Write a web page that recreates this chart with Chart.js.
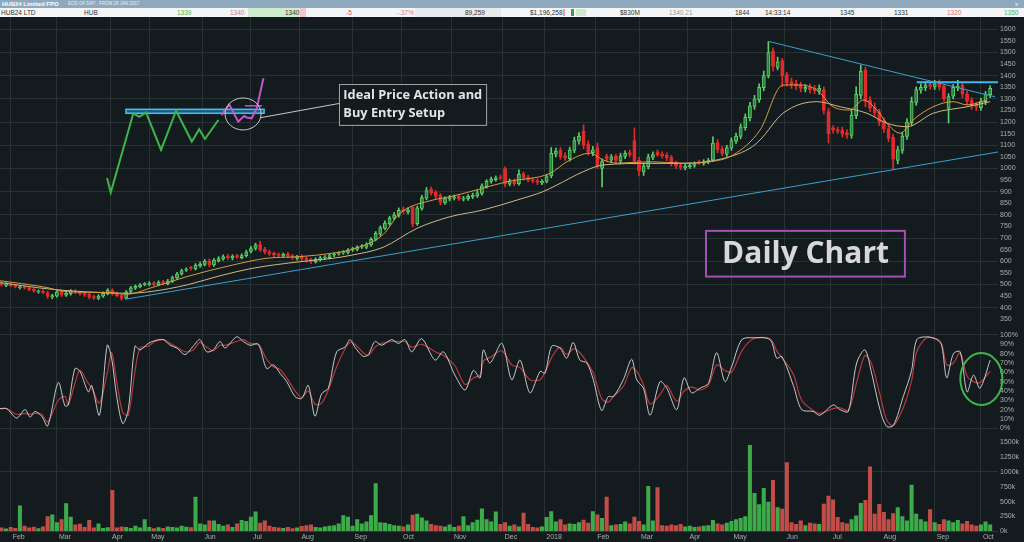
<!DOCTYPE html>
<html>
<head>
<meta charset="utf-8">
<title>HUB24 Daily Chart</title>
<script src="https://cdn.jsdelivr.net/npm/chart.js@4.4.1/dist/chart.umd.min.js"></script>
<style>
  html, body { margin: 0; padding: 0; background: #141b1e; }
  body { width: 1024px; height: 542px; overflow: hidden; position: relative;
         font-family: 'Liberation Sans', Arial, sans-serif; }
  #titlebar { position: absolute; left: 0; top: 0; width: 1024px; height: 8px; background: #8ea9be; color: #fff; }
  #quote { position: absolute; left: 0; top: 8px; width: 1024px; height: 9px; background: #f3f5f6; color: #333; font-size: 6.5px; line-height: 9px; }
  .c { position: absolute; top: 0; white-space: nowrap; }
  .bg { position: absolute; top: 0; height: 9px; }
  #wrap { position: absolute; left: 0; top: 17px; width: 1024px; height: 525px; }
</style>
</head>
<body>
<div id="titlebar">
  <span class="c" style="left:2px;font-size:6px;line-height:8px;font-weight:bold">HUB24 Limited FPO</span>
  <span class="c" style="left:68px;font-size:4.5px;line-height:8px;color:#e6edf3">EOD OF DAY , FROM 28 JAN 2017</span>
  <span class="c" style="left:1015px;font-size:6px;line-height:8px">x</span>
</div>
<div id="quote">
  <div class="bg" style="left:248px;width:52px;background:#cfeccf"></div>
  <div class="bg" style="left:300px;width:6px;background:#f3c8c8"></div>
  <div class="bg" style="left:415px;width:86px;background:#e8eaeb"></div>
  <span class="c" style="left:1px">HUB24 LTD</span>
  <span class="c" style="left:84px">HUB</span>
  <span class="c" style="left:177px;color:#4fae55">1339</span>
  <span class="c" style="left:230px;color:#d27a7a">1340</span>
  <span class="c" style="left:285px">1340</span>
  <span class="c" style="left:346px;color:#d9534f">-5</span>
  <span class="c" style="left:397px;color:#dd7b7b">-.37%</span>
  <span class="c" style="left:465px">89,259</span>
  <span class="c" style="left:530px">$1,196,258</span>
  <span class="c" style="left:563px;top:1px;width:2px;height:7px;background:#e8a0a0"></span>
  <span class="c" style="left:571px;top:1px;width:3px;height:7px;background:#3e9e48"></span>
  <span class="c" style="left:576px;top:1px;width:10px;height:7px;background:#cfe9cf"></span>
  <span class="c" style="left:620px">$830M</span>
  <span class="c" style="left:669px;color:#9a9a9a">1340.21</span>
  <span class="c" style="left:735px">1844</span>
  <span class="c" style="left:765px">14:33:14</span>
  <span class="c" style="left:840px">1345</span>
  <span class="c" style="left:894px">1331</span>
  <span class="c" style="left:947px;color:#d27a7a">1320</span>
  <span class="c" style="left:1004px;color:#52b45a">1350</span>
</div>
<div id="wrap"><canvas id="chart"></canvas></div>

<script>
// one bar every 2 trading days, first bar at trading day -4 (late Jan 2017), day 0 = 1 Feb 2017
const FIRST_DAY = -4;

const opens = [
  505, 496, 503, 497, 486, 490, 486, 480, 468, 472,
  465, 446, 450, 470, 454, 460, 472, 467, 462, 457,
  448, 440, 449, 460, 476, 462, 454, 442, 470, 484,
  490, 499, 500, 507, 499, 512, 503, 514, 528, 546,
  562, 572, 568, 580, 586, 602, 584, 603, 610, 622,
  613, 624, 616, 624, 642, 655, 672, 652, 642, 634,
  630, 623, 632, 624, 612, 622, 613, 608, 598, 606,
  614, 616, 626, 632, 636, 638, 650, 651, 662, 660,
  670, 694, 718, 742, 762, 786, 798, 824, 812, 832,
  762, 828, 872, 910, 897, 884, 852, 868, 872, 880,
  868, 870, 878, 882, 893, 922, 944, 952, 964, 1000,
  932, 948, 934, 978, 962, 952, 948, 938, 944, 968,
  1062, 1078, 1056, 1042, 1078, 1118, 1160, 1105, 1068, 1090,
  1000, 1055, 1036, 1052, 1032, 1052, 1068, 1120, 1035, 985,
  1008, 1048, 1072, 1062, 1058, 1048, 1024, 1014, 1002, 1008,
  1013, 1028, 1022, 1028, 1036, 1112, 1085, 1062, 1088, 1118,
  1138, 1176, 1218, 1268, 1296, 1348, 1398, 1505, 1436, 1465,
  1405, 1375, 1366, 1360, 1342, 1352, 1345, 1332, 1340, 1245,
  1175, 1168, 1165, 1155, 1142, 1228, 1315, 1425, 1295, 1265,
  1245, 1205, 1172, 1135, 1035, 1078, 1138, 1198, 1285, 1338,
  1348, 1362, 1352, 1368, 1355, 1260, 1312, 1348, 1360, 1322,
  1295, 1275, 1262, 1288, 1318
];
const highs = [
  512, 508, 507, 500, 495, 494, 490, 484, 476, 478,
  470, 458, 474, 476, 468, 478, 478, 472, 466, 462,
  454, 456, 468, 482, 482, 468, 458, 474, 492, 498,
  504, 508, 512, 512, 516, 518, 522, 536, 552, 566,
  572, 578, 590, 596, 608, 610, 612, 620, 628, 630,
  628, 630, 632, 648, 664, 678, 686, 660, 648, 640,
  636, 636, 638, 630, 626, 628, 620, 614, 615, 622,
  624, 632, 636, 642, 646, 655, 660, 667, 672, 680,
  702, 728, 752, 774, 794, 810, 830, 834, 830, 836,
  838, 884, 918, 920, 905, 892, 878, 884, 886, 888,
  880, 888, 894, 906, 934, 952, 963, 968, 972, 1007,
  955, 955, 994, 985, 970, 960, 955, 952, 975, 1090,
  1088, 1090, 1068, 1092, 1135, 1155, 1188, 1120, 1095, 1110,
  1042, 1062, 1060, 1062, 1066, 1076, 1080, 1175, 1048, 1022,
  1062, 1072, 1080, 1072, 1068, 1056, 1032, 1022, 1018, 1024,
  1028, 1036, 1038, 1044, 1136, 1125, 1095, 1100, 1132, 1153,
  1192, 1235, 1285, 1315, 1365, 1420, 1547, 1520, 1480, 1475,
  1415, 1390, 1380, 1372, 1362, 1365, 1358, 1360, 1352, 1260,
  1185, 1178, 1178, 1168, 1252, 1352, 1446, 1437, 1310, 1282,
  1255, 1218, 1185, 1148, 1095, 1155, 1215, 1308, 1352, 1365,
  1372, 1375, 1380, 1382, 1362, 1322, 1362, 1380, 1372, 1334,
  1305, 1285, 1302, 1332, 1356
];
const lows = [
  492, 490, 490, 485, 480, 480, 472, 466, 462, 460,
  440, 438, 445, 448, 448, 454, 460, 454, 448, 438,
  436, 434, 444, 455, 454, 446, 432, 438, 464, 478,
  485, 494, 494, 494, 494, 498, 498, 508, 522, 540,
  556, 562, 562, 574, 580, 576, 578, 596, 604, 608,
  606, 612, 610, 618, 636, 648, 642, 632, 625, 620,
  618, 616, 615, 608, 605, 600, 596, 590, 592, 600,
  608, 610, 620, 626, 630, 632, 642, 645, 655, 654,
  664, 688, 710, 735, 755, 778, 790, 806, 804, 748,
  755, 820, 865, 885, 870, 843, 845, 860, 864, 862,
  860, 862, 870, 875, 885, 915, 936, 945, 950, 920,
  925, 926, 928, 950, 942, 938, 930, 930, 938, 960,
  1050, 1040, 1035, 1032, 1068, 1105, 1085, 1058, 1055, 1000,
  920, 1030, 1025, 1024, 1020, 1042, 1050, 1018, 968, 970,
  998, 1038, 1052, 1044, 1034, 1010, 1000, 995, 994, 1000,
  1005, 1016, 1014, 1020, 1030, 1068, 1055, 1052, 1078, 1108,
  1128, 1165, 1205, 1255, 1285, 1335, 1390, 1420, 1425, 1352,
  1355, 1345, 1340, 1330, 1330, 1325, 1322, 1320, 1235, 1110,
  1152, 1150, 1136, 1130, 1130, 1215, 1300, 1266, 1245, 1225,
  1185, 1155, 1115, 994, 1020, 1065, 1125, 1185, 1272, 1325,
  1335, 1342, 1340, 1338, 1290, 1196, 1300, 1335, 1305, 1275,
  1255, 1250, 1250, 1275, 1305
];
const closes = [
  498, 502, 495, 490, 488, 485, 478, 472, 470, 466,
  448, 452, 468, 455, 462, 470, 466, 460, 455, 445,
  442, 450, 462, 475, 460, 452, 440, 468, 485, 492,
  498, 502, 505, 500, 510, 505, 515, 530, 545, 560,
  565, 570, 582, 588, 600, 585, 605, 612, 620, 615,
  622, 618, 625, 640, 655, 670, 650, 640, 632, 628,
  625, 630, 622, 615, 620, 610, 605, 600, 608, 615,
  618, 625, 630, 635, 640, 648, 652, 660, 665, 672,
  695, 720, 745, 765, 785, 800, 820, 815, 820, 760,
  830, 875, 905, 895, 880, 855, 870, 875, 878, 870,
  872, 880, 885, 895, 925, 945, 955, 960, 958, 935,
  945, 935, 975, 960, 950, 945, 940, 945, 965, 1065,
  1075, 1050, 1045, 1080, 1120, 1140, 1100, 1070, 1080, 1010,
  1030, 1040, 1050, 1035, 1055, 1065, 1060, 1030, 990, 1010,
  1050, 1060, 1060, 1055, 1045, 1020, 1010, 1005, 1010, 1015,
  1020, 1025, 1030, 1035, 1110, 1080, 1065, 1090, 1120, 1140,
  1180, 1220, 1270, 1300, 1350, 1400, 1500, 1440, 1460, 1400,
  1370, 1360, 1355, 1345, 1350, 1340, 1335, 1345, 1250, 1150,
  1165, 1160, 1150, 1145, 1230, 1320, 1420, 1290, 1260, 1240,
  1200, 1170, 1130, 1040, 1080, 1140, 1200, 1290, 1340, 1350,
  1360, 1355, 1365, 1350, 1300, 1310, 1350, 1355, 1320, 1290,
  1270, 1265, 1290, 1320, 1345
];
// volume in thousands of shares
const volumes = [
  60, 45, 70, 55, 430, 90, 60, 75, 50, 80,
  250, 280, 150, 200, 465, 240, 110, 125, 70, 185,
  60, 130, 55, 65, 690, 60, 80, 70, 55, 90,
  60, 200, 70, 50, 65, 55, 80, 70, 60, 90,
  75, 65, 575, 130, 110, 180, 180, 120, 90, 110,
  70, 130, 185, 170, 240, 330, 140, 180, 90, 70,
  60, 55, 70, 50, 60, 85, 100, 110, 70, 60,
  80, 90, 100, 130, 265, 240, 90, 200, 130, 160,
  265, 800, 150, 140, 120, 100, 90, 80, 110, 275,
  290, 230, 180, 120, 100, 90, 80, 110, 70, 90,
  250, 100, 150, 190, 380, 200, 160, 330, 120, 150,
  90, 110, 80, 308, 120, 70, 60, 80, 235, 335,
  160, 200, 110, 130, 120, 150, 190, 140, 335, 280,
  220, 575, 100, 110, 120, 160, 130, 240, 170, 110,
  755, 180, 735, 100, 90, 110, 100, 120, 80, 90,
  70, 80, 90, 100, 185, 130, 110, 140, 170, 200,
  220, 250, 1440, 640, 450, 720, 490, 855, 400, 375,
  1150, 150, 120, 180, 100, 140, 130, 120, 460, 590,
  530, 235, 150, 130, 200, 260, 470, 520, 1080, 290,
  455, 320, 200, 300, 400, 250, 180, 775, 290, 200,
  160, 365, 150, 120, 200, 180, 150, 185, 130, 170,
  110, 90, 110, 160, 110
];

// moving averages (trading day, price)
const maFastDays = [-4.6, 14, 24.4, 43, 50.3, 60.3, 76.3, 96.2, 110.9, 125.2, 139.5, 146.9, 161.2, 168.5,
  182.8, 190.2, 204.4, 214.8, 233.5, 240.8, 250.8, 256.4, 262.5, 276.8, 291, 302.7, 312.7, 324.4,
  334.3, 341.7, 349, 356, 363.3, 369, 375, 379.3, 385, 390.6, 399.3, 408, 414, 422.6];
const maFast = [516, 490, 469, 465, 458, 484, 534, 584, 613, 620, 635, 649, 715, 807,
  864, 878, 915, 943, 979, 1029, 1066, 1037, 1023, 1029, 1023, 1029, 1058, 1166,
  1360, 1360, 1338, 1266, 1252, 1295, 1252, 1195, 1152, 1209, 1266, 1288, 1274, 1295];
const maSlowDays = [-4.6, 17, 38.7, 50.3, 60.3, 76.3, 89.3, 104.9, 125.2, 139.5, 146.9, 161.2, 175.9,
  190.2, 204.4, 219.2, 230.4, 236.5, 247.8, 256.4, 276.8, 291, 305.8, 320, 324.4, 334.3, 349, 359,
  370.7, 379.3, 388, 399.3, 414, 424];
const maSlow = [508, 480, 465, 462, 469, 498, 534, 570, 598, 613, 625, 660, 742,
  792, 821, 864, 900, 929, 986, 1015, 1022, 1022, 1037, 1087, 1123, 1238, 1288, 1266,
  1238, 1195, 1180, 1238, 1266, 1288];

// stochastic oscillator (%K white, %D red)
const stochDays = [-4.6, -1.7, 2.6, 6.2, 8.4, 10.5, 13.4, 16.0, 20.6, 23.5, 24.9, 27.8, 30.0, 33.6, 35.1,
  38.4, 41.8, 43.7, 45.9, 48.5, 50.9, 53.8, 56.0, 59.6, 62.5, 66.1, 69.0, 71.9, 75.5, 79.0, 81.9,
  84.8, 87.7, 90.6, 92.8, 97.8, 100.7, 103.6, 107.2, 110.8, 113.7, 116.6, 119.5, 123.1, 126.0,
  128.8, 131.7, 134.6, 137.5, 141.1, 144.7, 146.9, 149.0, 152.6, 154.8, 157.7, 160.6, 164.9,
  167.8, 170.7, 173.6, 177.9, 183.7, 187.3, 192.3, 196.7, 200.3, 203.2, 204.6, 207.5, 212.6,
  216.9, 220.5, 224.8, 229.2, 231.3, 234.2, 237.8, 240.7, 243.5, 246.4, 249.4, 252.2, 255.8,
  258.7, 260.9, 265.2, 268.8, 271.0, 273.9, 276.8, 281.1, 284.0, 288.3, 291.5, 294.8, 298.4,
  302.0, 305.6, 309.2, 312.1, 316.5, 321.5, 328.7, 331.6, 333.8, 338.8, 342.4, 347.4, 350.3,
  356.1, 359.0, 362.6, 366.2, 369.8, 372.7, 376.3, 379.2, 382.1, 386.4, 390.0, 392.2, 396.5,
  400.9, 403.0, 405.2, 408.1, 411.0, 414.0, 416.8, 419.6, 424.0];
const stochK = [21, 21, 11, 20, 12, 18, 13, 2.5, 49, 24, 25, 64, 61, 39, 46,
  14, 89, 75, 34, 5, 20, 88, 84, 91, 94, 95, 89, 86, 79, 88, 95,
  82, 84, 93, 86, 98, 93, 89, 90, 64, 68, 59, 50, 34, 32,
  46, 13, 37, 43, 82, 87, 95, 87, 77, 79, 93, 89, 95,
  91, 95, 82, 96, 73, 82, 57, 41, 62, 54, 84, 70, 91,
  52, 73, 38, 61, 59, 88, 86, 75, 92, 73, 70, 52, 19,
  34, 34, 52, 74, 52, 43, 14, 50, 43, 20, 54, 38, 43,
  48, 81, 50, 66, 95, 97, 95, 75, 77, 46, 20, 18, 14,
  25, 20, 18, 70, 84, 59, 20, 2, 3, 34, 62, 95, 98,
  95, 89, 54, 80, 82, 39, 57, 43, 73];
const stochD = [21, 21, 15, 16, 15, 16, 15, 7, 30, 34, 25, 48, 62, 48, 43,
  27, 59, 81, 50, 17, 14, 61, 86, 88, 93, 95, 91, 87, 82, 84, 92,
  87, 83, 89, 89, 93, 95, 91, 90, 74, 66, 63, 54, 40, 33,
  40, 26, 27, 41, 66, 85, 92, 90, 81, 78, 87, 91, 93,
  93, 93, 87, 90, 82, 78, 67, 47, 54, 57, 72, 76, 83,
  68, 65, 52, 52, 60, 76, 87, 79, 85, 81, 71, 59, 32,
  28, 34, 45, 65, 61, 47, 26, 36, 46, 29, 40, 44, 41,
  46, 68, 62, 60, 83, 96, 96, 83, 76, 58, 30, 19, 16,
  21, 22, 19, 49, 78, 69, 36, 9, 3, 22, 51, 82, 97,
  96, 91, 68, 70, 81, 56, 50, 49, 61];

// trading-day index of the first session of each month
const monthDays = [0, 20, 43, 60, 83, 104, 125, 148, 169, 191, 213, 231, 253, 272, 293, 312, 335, 355, 377, 400, 420];
const monthLabels = ['Feb', 'Mar', 'Apr', 'May', 'Jun', 'Jul', 'Aug', 'Sep', 'Oct', 'Nov', 'Dec', '2018',
  'Feb', 'Mar', 'Apr', 'May', 'Jun', 'Jul', 'Aug', 'Sep', 'Oct'];

// hand-drawn trend lines and the "ideal" sketch
const supportDays = [49.5, 427.4];
const supportPrices = [436, 1071];
const fallingDays = [328.4, 426.1];
const fallingPrices = [1547, 1309];
const flatDays = [392.2, 427.4];
const flatPrices = [1372, 1372];
const idealDays = [41.7, 43.3, 53.1, 55.7, 58.6, 65.1, 71.6, 78.4, 81.6, 84.1, 89.9];
const idealPrices = [959, 896, 1238, 1223, 1241, 1080, 1249, 1116, 1169, 1127, 1209];
const breakDays = [91.3, 94.6, 98.5, 101, 102.2, 104.3, 106.5, 109.4];
const breakPrices = [1230, 1276, 1202, 1226, 1220, 1216, 1259, 1389];
const stopDays = [101.4, 108.8];
const stopPrices = [1270, 1270];
const bandDays = [49.9, 109.7];
const bandPrices = [1238, 1255];

const BG = '#141b1e';
const GRID = '#283134';
const TICK = '#a7aeb2';
const UP_FILL = '#2b7f39';
const UP_EDGE = '#5bd06b';
const DOWN = '#e22a2b';
const tickFont = { family: "'Liberation Sans', Arial, sans-serif", size: 7 };

const days = closes.map((c, i) => FIRST_DAY + 2 * i);
const rising = closes.map((c, i) => c >= opens[i]);
const pts = (xs, ys) => xs.map((d, i) => ({ x: d, y: ys[i] }));
const everyN = n => c => (c.tick && Math.round(c.tick.value) % n === 0) ? GRID : 'rgba(0,0,0,0)';

function fitFont(ctx, text, weight, width, family) {
  ctx.font = weight + ' 20px ' + family;
  const size = 20 * width / ctx.measureText(text).width;
  ctx.font = weight + ' ' + size.toFixed(2) + 'px ' + family;
}

const notes = {
  id: 'notes',
  beforeDatasetsDraw(chart) {
    const { ctx, scales: { x, yP } } = chart;
    const x0 = x.getPixelForValue(bandDays[0]), x1 = x.getPixelForValue(bandDays[1]);
    const y0 = yP.getPixelForValue(bandPrices[1]), y1 = yP.getPixelForValue(bandPrices[0]);
    ctx.save();
    ctx.fillStyle = '#1c5b80';
    ctx.fillRect(x0, y0, x1 - x0, y1 - y0);
    ctx.strokeStyle = '#45bff2';
    ctx.lineWidth = 1.5;
    ctx.strokeRect(x0, y0, x1 - x0, y1 - y0);
    ctx.restore();
  },
  afterDatasetsDraw(chart) {
    const { ctx, scales: { x, yP, yS } } = chart;
    const fam = "'Open Sans', 'Noto Sans', sans-serif";
    ctx.save();

    // circle round the breakout and the pointer to the note
    const cx = x.getPixelForValue(100.6), cy = yP.getPixelForValue(1235);
    ctx.strokeStyle = '#c2c8cb';
    ctx.lineWidth = 1;
    ctx.beginPath();
    ctx.ellipse(cx, cy, x.getPixelForValue(108.4) - cx, cy - yP.getPixelForValue(1304), 0, 0, Math.PI * 2);
    ctx.stroke();
    ctx.beginPath();
    ctx.moveTo(x.getPixelForValue(108.2), yP.getPixelForValue(1219));
    ctx.lineTo(x.getPixelForValue(142.6), yP.getPixelForValue(1281));
    ctx.stroke();

    // note box
    const bx0 = x.getPixelForValue(142.1), bx1 = x.getPixelForValue(205.8);
    const by0 = yP.getPixelForValue(1364), by1 = yP.getPixelForValue(1188);
    ctx.fillStyle = BG;
    ctx.fillRect(bx0, by0, bx1 - bx0, by1 - by0);
    ctx.strokeStyle = '#a2a8ab';
    ctx.strokeRect(bx0 + 0.5, by0 + 0.5, bx1 - bx0, by1 - by0);
    ctx.fillStyle = '#e4e4e4';
    ctx.textBaseline = 'alphabetic';
    ctx.textAlign = 'left';
    fitFont(ctx, 'Ideal Price Action and', 'bold', 139, fam);
    ctx.fillText('Ideal Price Action and', x.getPixelForValue(144), yP.getPixelForValue(1300));
    ctx.fillText('Buy Entry Setup', x.getPixelForValue(144), yP.getPixelForValue(1222));

    // "Daily Chart" label
    const dx0 = x.getPixelForValue(301), dx1 = x.getPixelForValue(387.1);
    const dy0 = yP.getPixelForValue(731), dy1 = yP.getPixelForValue(534);
    ctx.strokeStyle = '#a44fb4';
    ctx.lineWidth = 2;
    ctx.strokeRect(dx0, dy0, dx1 - dx0, dy1 - dy0);
    ctx.fillStyle = '#d8d8d8';
    ctx.textAlign = 'center';
    fitFont(ctx, 'Daily Chart', 'bold', 167, fam);
    ctx.fillText('Daily Chart', x.getPixelForValue(344.1), yP.getPixelForValue(593));

    // green ring on the oscillator
    const gx = x.getPixelForValue(420.2), gy = yS.getPixelForValue(52.8);
    ctx.strokeStyle = '#3db64b';
    ctx.lineWidth = 2;
    ctx.beginPath();
    ctx.ellipse(gx, gy, x.getPixelForValue(429.3) - gx, gy - yS.getPixelForValue(80.7), 0, 0, Math.PI * 2);
    ctx.stroke();
    ctx.restore();
  }
};

// no edge padding: panels butt against the canvas top and the x axis
function noPad(s) { s.paddingTop = 0; s.paddingBottom = 0; s.paddingLeft = 0; s.paddingRight = 0; }

function rightAxis(extra) {
  return Object.assign({
    position: 'right',
    stack: 'panels',
    offset: false,
    border: { display: false },
    afterFit: s => { s.width = 26; noPad(s); }
  }, extra);
}

new Chart(document.getElementById('chart'), {
  type: 'bar',
  data: {
    datasets: [
      { type: 'line', data: pts(supportDays, supportPrices), yAxisID: 'yP', borderColor: '#3b9fcf', borderWidth: 1, pointRadius: 0, order: 0 },
      { type: 'line', data: pts(fallingDays, fallingPrices), yAxisID: 'yP', borderColor: '#3b9fcf', borderWidth: 1, pointRadius: 0, order: 0 },
      { type: 'line', data: pts(flatDays, flatPrices), yAxisID: 'yP', borderColor: '#3fb8ee', borderWidth: 2, pointRadius: 0, order: 0 },
      { type: 'line', data: pts(idealDays, idealPrices), yAxisID: 'yP', borderColor: '#3cb44b', borderWidth: 2, pointRadius: 0, order: 0 },
      { type: 'line', data: pts(breakDays, breakPrices), yAxisID: 'yP', borderColor: '#c258c8', borderWidth: 2, pointRadius: 0, order: 0 },
      { type: 'line', data: pts(stopDays, stopPrices), yAxisID: 'yP', borderColor: '#c258c8', borderWidth: 1.5, pointRadius: 0, order: 0 },
      { type: 'line', data: pts(maFastDays, maFast), yAxisID: 'yP', borderColor: '#d89c42', borderWidth: 1, pointRadius: 0, cubicInterpolationMode: 'monotone', order: 1 },
      { type: 'line', data: pts(maSlowDays, maSlow), yAxisID: 'yP', borderColor: '#cdb987', borderWidth: 1, pointRadius: 0, cubicInterpolationMode: 'monotone', order: 1 },
      { type: 'bar', data: days.map((d, i) => ({ x: d, y: [opens[i], closes[i]] })), yAxisID: 'yP',
        backgroundColor: rising.map(u => u ? UP_FILL : DOWN), borderColor: rising.map(u => u ? UP_EDGE : DOWN),
        borderWidth: 1, borderSkipped: false, barThickness: 3.2, minBarLength: 1, grouped: false, order: 3 },
      { type: 'bar', data: days.map((d, i) => ({ x: d, y: [lows[i], highs[i]] })), yAxisID: 'yP',
        backgroundColor: rising.map(u => u ? UP_EDGE : DOWN), barThickness: 1, grouped: false, order: 4 },
      { type: 'bar', data: days.map((d, i) => ({ x: d, y: volumes[i] })), yAxisID: 'yV',
        backgroundColor: rising.map(u => u ? '#3eab4b' : '#c24c47'), barThickness: 3.4, grouped: false, order: 4 },
      { type: 'line', data: pts(stochDays, stochD), yAxisID: 'yS', borderColor: '#b8393b', borderWidth: 1.2, pointRadius: 0, tension: 0.3, order: 2 },
      { type: 'line', data: pts(stochDays, stochK), yAxisID: 'yS', borderColor: '#d9dcdd', borderWidth: 0.9, pointRadius: 0, tension: 0.3, order: 1 }
    ]
  },
  options: {
    responsive: true,
    maintainAspectRatio: false,
    animation: false,
    layout: { padding: 0 },
    plugins: { legend: { display: false }, tooltip: { enabled: false } },
    scales: {
      x: {
        type: 'linear',
        min: -4.63,
        max: 427.4,
        offset: false,
        border: { display: false },
        grid: { color: GRID, offset: false, drawTicks: false },
        afterBuildTicks: s => { s.ticks = monthDays.map(v => ({ value: v })); },
        afterFit: s => { s.height = 10.5; noPad(s); },
        ticks: {
          autoSkip: false, maxRotation: 0, align: 'start', labelOffset: 2, padding: 1,
          color: TICK, font: tickFont,
          callback: v => monthLabels[monthDays.indexOf(v)]
        }
      },
      yP: rightAxis({
        stackWeight: 312, min: 308, max: 1653,
        grid: { color: everyN(100), drawTicks: false },
        afterBuildTicks: s => { s.ticks = s.ticks.filter(t => t.value % 50 === 0 && t.value >= 350 && t.value <= 1600); },
        ticks: { stepSize: 50, includeBounds: false, maxTicksLimit: 200, autoSkip: false, padding: 2, color: TICK, font: tickFont, callback: v => String(v) }
      }),
      yS: rightAxis({
        stackWeight: 103, min: -4, max: 106.4,
        grid: { color: everyN(100), drawTicks: false },
        afterBuildTicks: s => { s.ticks = s.ticks.filter(t => t.value % 10 === 0 && t.value >= 0 && t.value <= 100); },
        ticks: { stepSize: 10, includeBounds: false, maxTicksLimit: 200, autoSkip: false, padding: 2, color: TICK, font: tickFont, callback: v => v + '%' }
      }),
      yV: rightAxis({
        stackWeight: 99.5, min: 0, max: 1663,
        grid: { color: everyN(1000), drawTicks: false },
        afterBuildTicks: s => { s.ticks = s.ticks.filter(t => t.value % 250 === 0 && t.value <= 1500); },
        ticks: { stepSize: 250, includeBounds: false, maxTicksLimit: 200, autoSkip: false, padding: 2, color: TICK, font: tickFont, callback: v => v + 'k' }
      })
    }
  },
  plugins: [notes]
});
</script>
</body>
</html>
